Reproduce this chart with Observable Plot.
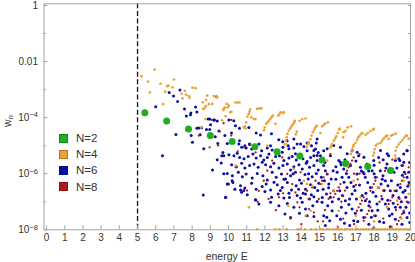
<!DOCTYPE html>
<html><head><meta charset="utf-8">
<script src="https://cdn.jsdelivr.net/npm/d3@7"></script>
<script src="https://cdn.jsdelivr.net/npm/@observablehq/plot@0.6"></script>
<style>
body{margin:0;background:#fff;}
#wrap{position:relative;width:415px;height:262px;font-family:"Liberation Sans",Arial,sans-serif;}
.legend{position:absolute;left:59px;top:130px;font-size:11.5px;color:#333;}
.legend div{display:flex;align-items:center;height:16.2px;}
.legend .sw{width:9px;height:9px;margin-right:8px;box-sizing:border-box;border:0.6px solid rgba(0,0,0,0.25);}
</style></head><body><div id="wrap"></div><script>
// ---- data ----
const seriesNames = ["N=2", "N=4", "N=6", "N=8"];
const seriesColors = ["#1fae1f", "#e9a234", "#0c0cab", "#b3161b"];
const thresholdE = [5];
const energyTicks = [0,1,2,3,4,5,6,7,8,9,10,11,12,13,14,15,16,17,18,19,20];
const wLabelTicks = [1, 1e-2, 1e-4, 1e-6, 1e-8];
const wMinorTicks = [1e-1, 1e-3, 1e-5, 1e-7];
const wAllTicks = [1, 1e-1, 1e-2, 1e-3, 1e-4, 1e-5, 1e-6, 1e-7, 1e-8];

// N=2 : energy and w_n
const n2E = [5.4, 6.6, 7.8, 9.0, 10.2, 11.45, 12.67, 13.92, 15.14, 16.43, 17.65, 18.9];
const n2W = [1.5e-4, 7.6e-5, 3.9e-5, 2.3e-5, 1.4e-5, 9.2e-6, 6.1e-6, 4.3e-6, 3.1e-6, 2.3e-6, 1.8e-6, 1.3e-6];

// N=4 : [energy, log10 w_n]
const n4 = [
[5.22,-2.52],[5.93,-2.29],[5.57,-2.71],[7.0,-2.64],[6.26,-2.79],[6.62,-2.88],[6.7,-2.86],[6.92,-2.92],[5.68,-3.1],[6.52,-3.07],
[7.6,-3.04],[8.02,-2.93],[8.19,-2.95],[7.42,-3.15],[7.67,-3.18],[7.82,-3.23],[7.85,-3.29],[7.47,-3.31],[8.83,-3.21],[9.19,-3.23],
[9.34,-3.23],[9.38,-3.28],[8.77,-3.37],[8.59,-3.45],[8.92,-3.52],[9.1,-3.51],[8.75,-3.59],[8.6,-3.69],[8.68,-3.67],[6.41,-3.52],
[9.74,-3.69],[9.71,-3.73],[9.8,-3.64],[9.84,-3.95],[8.74,-4.05],[9.65,-4.1],[8.5,-4.35],
[9.9,-3.51],[10.02,-3.57],[9.96,-3.63],[10.38,-3.46],[10.49,-3.46],[10.6,-3.46],[10.09,-3.81],[10.16,-3.79],
[10.84,-4.35],[10.9,-4.31],[10.93,-4.38],[10.97,-4.17],[11.04,-3.96],[11.11,-3.87],[11.15,-3.79],[11.19,-3.71],[11.26,-3.99],[11.39,-4.05],
[11.48,-4.05],[11.57,-3.69],[11.7,-3.67],[11.81,-3.67],
[11.95,-4.45],[11.99,-4.35],[12.07,-4.22],[12.14,-4.17],[12.21,-4.11],[12.29,-4.05],[12.36,-3.99],[12.43,-3.93],[12.58,-4.22],[12.73,-3.93],
[12.8,-3.87],[12.86,-3.81],[12.98,-3.83],[13.04,-3.81],
[13.1,-4.95],[13.15,-4.82],[13.2,-4.7],[13.24,-4.58],[13.31,-4.46],[13.39,-4.38],[13.46,-4.31],[13.53,-4.24],[13.61,-4.17],[13.64,-4.11],
[13.7,-4.6],[13.75,-4.5],[13.9,-4.11],[14.05,-4.05],[14.23,-4.03],
[14.3,-5.05],[14.36,-4.95],[14.41,-4.88],[14.51,-4.77],[14.56,-4.64],[14.63,-4.52],[14.71,-4.43],[14.78,-4.35],[14.85,-4.29],
[15.05,-4.55],[15.15,-4.31],[15.24,-4.25],[15.31,-4.21],[15.46,-4.17],
[15.6,-5.07],[15.65,-5.0],[15.7,-4.94],[15.79,-4.82],[15.86,-4.74],[15.92,-4.67],[16.0,-4.55],[16.08,-4.43],[16.12,-4.39],[16.3,-4.7],
[16.33,-4.52],[16.43,-4.47],[16.55,-4.35],[16.74,-4.31],
[16.72,-5.3],[16.76,-5.2],[16.8,-5.12],[16.85,-5.03],[16.88,-4.97],[16.98,-4.9],[17.07,-4.79],[17.13,-4.7],[17.21,-4.64],[17.31,-4.57],
[17.35,-4.55],[17.53,-4.61],[17.65,-4.55],[17.8,-4.48],[17.95,-4.43],[17.98,-4.4],
[17.95,-5.35],[18.0,-5.25],[18.03,-5.12],[18.1,-5.0],[18.2,-4.93],[18.35,-4.9],[18.44,-4.82],[18.53,-4.74],[18.63,-4.68],[18.72,-4.64],
[18.8,-4.76],[18.94,-4.64],[19.05,-4.61],[19.19,-4.57],
[19.15,-5.35],[19.2,-5.45],[19.18,-5.18],[19.25,-5.05],[19.35,-4.95],[19.45,-4.87],[19.55,-4.8],[19.65,-4.72],[19.75,-4.65],[19.8,-4.64],[19.9,-4.75],
[12.13,-5.0],[13.13,-4.94],[14.42,-4.94],[13.59,-5.83],[14.14,-6.25],[14.32,-6.37],[14.6,-6.43],[11.12,-7.2],[13.28,-7.14],[14.51,-7.32],
[14.23,-7.5],[10.39,-5.71],[15.42,-5.53],[15.14,-6.37],[15.78,-6.6],[16.06,-7.32],[16.88,-6.25],[17.25,-6.84],[18.25,-6.49],[18.71,-7.2],
[19.26,-6.96],[19.63,-6.25],[19.9,-6.72],[17.0,-7.5],[18.0,-7.7],[19.5,-7.6],
[11.57,-7.98],[12.58,-7.98],[12.8,-7.98],[13.2,-7.98],[13.8,-7.98],[13.95,-7.98],[14.2,-7.98],[14.55,-7.98],[14.8,-7.98],[15.05,-7.98],
[15.2,-7.98],[15.4,-7.98],[15.55,-7.98],[15.75,-7.98],[15.9,-7.98],[16.05,-7.98],[16.2,-7.98],[16.4,-7.98],[16.5,-7.98],[16.65,-7.98],
[16.8,-7.98],[17.0,-7.98],[17.1,-7.98],[17.25,-7.98],[17.4,-7.98],[17.55,-7.98],[17.7,-7.98],[17.85,-7.98],[18.0,-7.98],[18.15,-7.98],
[18.3,-7.98],[18.45,-7.98],[18.6,-7.98],[18.75,-7.98],[18.9,-7.98],[19.05,-7.98],[19.2,-7.98],[19.35,-7.98],[19.5,-7.98],[19.65,-7.98],
[19.8,-7.98],[19.95,-7.98]
];

// N=6 : [energy, log10 w_n]
const n6 = [
[6.74,-3.1],[7.33,-3.01],[6.98,-3.23],[7.2,-3.42],[6.0,-3.61],[7.58,-3.69],[8.19,-3.62],[8.26,-3.8],[7.93,-3.83],[7.91,-3.9],
[7.68,-3.94],[8.88,-4.05],[9.19,-4.08],[9.38,-4.12],[9.01,-4.25],[8.52,-4.36],[8.37,-4.37],[8.26,-4.38],[8.79,-4.42],[8.97,-4.42],
[8.44,-4.61],[7.95,-4.64],[7.11,-4.6],[9.47,-4.48],[9.27,-4.68],[8.02,-4.88],[9.41,-4.92],[9.8,-4.64],[8.64,-5.11],[6.37,-5.36],
[9.69,-5.24],[9.74,-5.36],[9.63,-5.36],[9.38,-5.5],[9.6,-5.62],[9.12,-5.87],[9.74,-6.0],[8.61,-6.76],[9.84,-6.85],[9.93,-6.37],
[10.2,-6.25],[10.35,-6.55],[10.66,-6.58],[10.84,-6.6],[11.48,-6.93],[8.96,-4.05],[9.23,-4.08],
[10.02,-4.08],[10.29,-4.11],[10.38,-4.29],[10.6,-4.38],[10.16,-4.55],[11.12,-4.35],[11.52,-4.55],[11.76,-4.62],[12.36,-4.57],[12.76,-4.79],
[12.98,-4.86],[13.22,-4.82],[13.59,-4.76],[13.96,-4.94],[14.32,-4.9],[14.82,-4.9],[14.87,-4.76],[10.6,-4.82],[11.15,-4.94],
[9.93,-4.92],[10.17,-4.88],[10.57,-4.94],[10.72,-5.06],[10.9,-5.0],[10.97,-5.08],[11.16,-4.96],[11.27,-5.12],[11.67,-4.94],[11.82,-5.18],
[12.13,-5.08],[12.31,-5.0],[12.4,-5.15],[12.99,-5.06],[13.28,-5.0],[13.59,-5.08],[13.77,-4.94],[14.14,-5.03],[14.32,-5.18],[14.56,-5.0],
[14.78,-5.12],[14.93,-5.24],
[10.02,-5.32],[10.3,-5.36],[10.48,-5.27],[10.61,-5.42],[10.85,-5.47],[11.08,-5.39],[11.34,-5.3],[11.52,-5.44],[11.76,-5.36],[11.94,-5.51],
[12.13,-5.42],[12.22,-5.3],[12.59,-5.39],[12.8,-5.36],[13.04,-5.53],[13.32,-5.44],[13.5,-5.39],[13.72,-5.51],[14.09,-5.47],[14.32,-5.56],
[14.51,-5.42],[14.69,-5.36],[14.87,-5.53],
[10.17,-5.68],[10.43,-5.75],[10.72,-5.63],[10.9,-5.8],[11.16,-5.71],[11.4,-5.65],[11.63,-5.77],[11.85,-5.59],[12.04,-5.68],[12.31,-5.75],
[12.49,-5.63],[12.77,-5.8],[12.99,-5.71],[13.23,-5.65],[13.41,-5.87],[13.59,-5.75],[13.87,-5.68],[14.05,-5.83],[14.27,-5.63],[14.45,-5.77],
[14.69,-5.71],[14.93,-5.87],
[9.93,-5.99],[10.21,-6.07],[10.54,-5.95],[10.76,-6.11],[10.97,-6.01],[11.3,-6.15],[11.58,-5.99],[11.89,-6.07],[12.13,-6.22],[12.4,-5.95],
[12.62,-6.13],[12.91,-6.01],[13.13,-6.19],[13.41,-6.07],[13.68,-5.95],[13.9,-6.22],[14.2,-6.03],[14.38,-6.19],[14.6,-6.11],[14.82,-5.99],
[9.99,-6.37],[10.24,-6.31],[10.66,-6.43],[10.9,-6.51],[11.27,-6.34],[11.52,-6.55],[11.85,-6.46],[12.07,-6.37],[12.31,-6.58],[12.68,-6.39],
[12.95,-6.49],[13.23,-6.31],[13.46,-6.58],[13.72,-6.43],[14.01,-6.34],[14.23,-6.55],[14.51,-6.39],[14.74,-6.49],[14.96,-6.34],
[9.84,-6.84],[10.72,-6.66],[11.03,-6.75],[11.49,-6.94],[12.0,-6.63],[12.37,-6.84],[12.73,-6.72],[13.04,-6.87],[13.32,-6.7],[13.77,-6.78],
[13.96,-6.87],[14.23,-6.72],[14.45,-6.9],[14.69,-6.82],
[11.67,-7.08],[12.31,-7.02],[12.77,-7.14],[13.23,-7.06],[13.59,-7.2],[14.05,-7.02],[14.23,-7.26],[14.63,-7.14],[14.87,-6.99],
[13.1,-7.44],[13.41,-7.56],[13.9,-7.41],[14.32,-7.5],[14.69,-7.53],
[15.05,-5.36],[15.14,-5.53],[15.23,-5.71],[15.32,-5.89],[15.42,-6.01],[15.1,-6.13],[15.27,-6.25],[15.51,-6.37],[15.2,-6.55],[15.38,-6.72],
[15.6,-6.84],[15.14,-7.02],[15.45,-7.14],[15.69,-7.32],[15.23,-7.5],[15.56,-7.68],[15.32,-7.85],[15.75,-5.89],[15.64,-6.19],[15.78,-6.61],
[16.06,-5.53],[16.18,-5.68],[16.33,-5.83],[16.48,-5.99],[16.61,-6.13],[16.73,-6.31],[16.88,-6.46],[16.11,-6.61],[16.26,-6.78],[16.42,-6.96],
[16.61,-7.1],[16.79,-7.26],[16.97,-7.41],[16.15,-7.62],[16.37,-7.77],[16.66,-7.85],[16.88,-7.68],[17.03,-6.9],[16.79,-6.72],[16.24,-6.13],
[15.97,-5.95],[16.51,-6.49],[17.06,-6.01],[16.7,-5.71],
[17.25,-5.77],[17.39,-5.95],[17.52,-6.13],[17.65,-6.31],[17.8,-6.49],[17.94,-6.66],[17.34,-6.78],[17.52,-6.96],[17.71,-7.14],[17.89,-7.32],
[18.07,-7.5],[17.43,-7.56],[17.71,-7.8],[17.98,-7.94],[18.16,-7.08],[18.25,-6.49],[18.07,-6.13],[17.61,-5.65],[17.89,-5.89],
[18.34,-5.89],[18.49,-6.07],[18.62,-6.25],[18.76,-6.43],[18.89,-6.61],[19.04,-6.78],[18.44,-6.9],[18.62,-7.08],[18.8,-7.26],[18.99,-7.44],
[19.17,-7.62],[18.53,-7.74],[18.89,-7.89],[19.17,-7.2],[19.22,-6.61],[18.71,-5.65],[18.99,-5.83],[18.38,-6.37],
[19.41,-5.53],[19.53,-5.71],[19.66,-5.95],[19.81,-6.13],[19.92,-6.31],[19.44,-6.49],[19.59,-6.66],[19.74,-6.84],[19.88,-7.02],[19.44,-7.2],
[19.63,-7.38],[19.81,-7.56],[19.96,-7.74],[19.53,-7.8],[19.9,-5.95],
[15.23,-5.18],[15.6,-5.36],[16.79,-5.18],[17.15,-5.36],[18.25,-5.42],[18.8,-5.36],[19.17,-5.53],[19.63,-5.3],[19.81,-5.18],[16.15,-5.06],
[12.95,-5.23],[13.32,-5.11],[13.68,-5.29],[14.69,-5.17],[14.87,-5.35],[15.42,-5.11],[15.78,-4.99],[16.15,-5.59],[16.52,-5.29],[17.07,-5.23],
[17.44,-5.41],[17.98,-5.53],[18.35,-5.17],[18.72,-5.29],[19.36,-5.47],[19.63,-5.59],[19.81,-5.17],
[12.5,-6.3],[12.85,-6.6],[13.05,-6.2],[13.35,-6.85],[13.55,-6.0],[13.85,-6.55],[14.1,-6.7],[14.4,-6.0],[14.55,-6.75],[14.9,-6.6],
[15.3,-5.6],[15.5,-6.5],[15.7,-7.0],[15.9,-6.2],[15.95,-7.5],[16.05,-6.9],[16.2,-7.2],[16.35,-6.3],[16.45,-7.4],[16.55,-5.6],
[16.65,-6.9],[16.95,-6.6],[17.1,-7.7],[17.2,-6.4],[17.3,-7.3],[17.45,-6.0],[17.55,-6.7],[17.7,-5.9],[17.75,-7.0],[17.85,-7.55],
[18.0,-6.0],[18.1,-6.8],[18.2,-7.3],[18.3,-7.7],[18.45,-6.2],[18.55,-6.6],[18.65,-5.8],[18.75,-6.95],[18.85,-7.5],[18.95,-6.25],
[19.05,-7.05],[19.1,-5.95],[19.3,-6.4],[19.35,-6.85],[19.5,-7.0],[19.55,-6.05],[19.7,-6.6],[19.75,-7.2],[19.85,-6.45],[19.95,-7.4],
[15.9,-5.75],[16.4,-5.5],[17.0,-5.55],[17.3,-5.9],[18.0,-5.7],[18.5,-5.5],[19.25,-5.8],[19.95,-5.6],[15.15,-6.85],[15.4,-7.55]
];

// N=8 : [energy, log10 w_n]
const n8 = [
[9.32,-3.26],[9.08,-4.08],[9.73,-4.2],[9.52,-4.49],[8.37,-4.64],[8.96,-5.06],[9.43,-4.99],[10.15,-4.08],[10.15,-4.64],[10.5,-5.2],
[11.2,-4.95],[10.39,-5.77],[10.94,-6.01],[11.94,-6.25],[13.5,-6.37],[13.68,-6.67],[14.32,-6.61],[14.6,-6.49],[12.4,-5.53],[12.95,-5.42],
[11.49,-5.24],[10.85,-5.06],[13.23,-6.01],[13.96,-5.95],[12.77,-6.84],[13.78,-7.02],[14.42,-7.26],[14.69,-7.38],[12.13,-5.89],[11.67,-6.61],
[14.78,-6.25],[14.96,-6.9],[11.02,-6.6],
[15.78,-6.84],[15.87,-6.72],[15.97,-6.61],[16.06,-6.49],[16.15,-6.37],
[17.06,-7.32],[17.15,-7.2],[17.24,-7.08],[17.33,-6.96],[17.43,-6.84],
[17.8,-6.61],[17.89,-6.49],[17.98,-6.37],[18.07,-6.25],[18.16,-6.13],
[18.71,-7.2],[18.8,-7.08],[18.9,-6.96],[19.0,-6.84],[19.12,-6.61],
[19.44,-6.37],[19.53,-6.25],[19.63,-6.13],[19.72,-6.01],[19.9,-5.77],
[15.05,-6.37],[15.14,-6.25],[15.23,-6.13],[15.42,-6.01],
[16.51,-5.89],[16.6,-5.77],[16.7,-5.65],[16.79,-5.53],[16.88,-5.42],
[17.43,-7.68],[17.52,-7.56],[17.62,-7.44],[17.71,-7.32],[17.8,-7.2],
[19.26,-7.8],[19.35,-7.68],[19.44,-7.56],[19.53,-7.44],[19.63,-7.32],
[15.6,-5.3],[16.3,-7.6],[16.9,-6.0],[17.6,-5.8],[18.3,-5.6],[18.5,-7.6],[19.0,-5.5],[19.8,-7.0],[15.3,-7.3],[16.0,-7.9],
[18.9,-7.9],[17.2,-5.3],[14.9,-7.7],[14.0,-7.8],[13.4,-7.6],[12.6,-7.3],[12.2,-6.9],[11.6,-7.0],
[15.5,-6.9],[15.6,-6.7],[16.2,-7.0],[16.3,-6.8],[16.4,-6.6],[17.0,-6.4],[17.1,-6.2],[17.2,-6.0],[18.3,-7.0],[18.4,-6.8],
[18.5,-6.6],[19.2,-7.3],[19.3,-7.1],[19.4,-6.9],[19.9,-6.4],[16.9,-7.8],[17.6,-6.9],[18.0,-7.5],[18.6,-5.9],[19.6,-5.7],
[15.2,-7.7],[14.4,-6.9],[13.9,-7.2],[13.0,-6.7]
];

// ---- build table rows ----
const rowsFromLog = (pts) => pts.map(([e, lg]) => ({E: e, w: Math.pow(10, lg)}));
const rowsN2 = n2E.map((e, i) => ({E: e, w: n2W[i]}));
const rowsN4 = rowsFromLog(n4);
const rowsN6 = rowsFromLog(n6);
const rowsN8 = rowsFromLog(n8);

const frameGray = "#a3a3a3";
const fmtW = d => d === 1 ? "1" : d === 0.01 ? "0.01" : "10^" + Math.round(Math.log10(d));

const chart = Plot.plot({
  width: 415, height: 262,
  marginLeft: 43.5, marginRight: 5, marginTop: 3.3, marginBottom: 32.7,
  style: {fontFamily: "'Liberation Sans', Arial, sans-serif", fontSize: "10px", color: "#333", background: "white", overflow: "visible"},
  x: {domain: [-0.14, 20]},
  y: {type: "log", domain: [1e-8, 1.15]},
  marks: [
    Plot.ruleX(thresholdE, {stroke: "#111", strokeWidth: 1.3, strokeDasharray: "5,2.6"}),
    Plot.dot(rowsN6, {x: "E", y: "w", r: 1.5, fill: seriesColors[2]}),
    Plot.dot(rowsN8, {x: "E", y: "w", r: 1.15, fill: seriesColors[3]}),
    Plot.dot(rowsN4, {x: "E", y: "w", r: 1.35, fill: seriesColors[1]}),
    Plot.dot(rowsN2, {x: "E", y: "w", r: 3.5, fill: seriesColors[0]}),
    Plot.frame({stroke: frameGray}),
    Plot.axisX({ticks: energyTicks, tickSize: -4, tickFormat: () => "", label: null, stroke: frameGray}),
    Plot.axisX({ticks: energyTicks, tickSize: 0, tickPadding: 4, tickFormat: d => String(d), label: null}),
    Plot.axisY({ticks: wLabelTicks, tickSize: -4, tickFormat: () => "", label: null, stroke: frameGray}),
    Plot.axisY({ticks: wMinorTicks, tickSize: -2.5, tickFormat: () => "", label: null, stroke: frameGray}),
    Plot.axisY({ticks: wLabelTicks, tickSize: 0, tickPadding: 6, tickFormat: fmtW, label: null}),
    Plot.axisY({anchor: "right", ticks: wAllTicks, tickSize: -3, tickFormat: () => "", label: null, stroke: frameGray})
  ]
});

const svg = d3.select(chart);
// superscript exponents on the y tick labels
svg.selectAll("text").each(function() {
  const t = d3.select(this);
  const s = this.textContent;
  const m = /^10\^(-?\d+)$/.exec(s);
  if (m) {
    t.text(null);
    t.append("tspan").text("10");
    t.append("tspan").attr("dy", "-0.45em").attr("font-size", "7.5px").text("\u2212" + m[1].replace("-", ""));
  }
});
// axis titles
svg.append("text").attr("x", 226.7).attr("y", 260).attr("text-anchor", "middle")
  .attr("font-size", "10.5px").attr("fill", "#333").text("energy E");
const yl = svg.append("text").attr("transform", "translate(10.5,121) rotate(-90)").attr("text-anchor", "middle")
  .attr("font-size", "10.5px").attr("fill", "#333");
yl.append("tspan").text("w");
yl.append("tspan").attr("dy", "0.3em").attr("font-size", "7.5px").attr("font-style", "italic").text("n");

const wrap = document.getElementById("wrap");
wrap.appendChild(chart);

// legend
const legend = document.createElement("div");
legend.className = "legend";
seriesNames.forEach((name, i) => {
  const row = document.createElement("div");
  const sw = document.createElement("span");
  sw.className = "sw";
  sw.style.background = seriesColors[i];
  const lab = document.createElement("span");
  lab.textContent = name;
  row.appendChild(sw); row.appendChild(lab);
  legend.appendChild(row);
});
wrap.appendChild(legend);
</script></body></html>
